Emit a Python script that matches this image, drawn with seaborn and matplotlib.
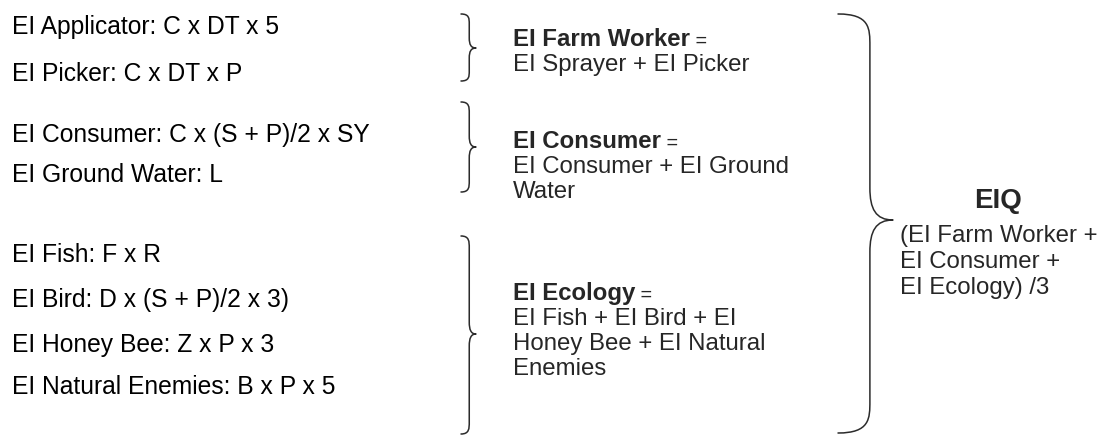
import matplotlib
matplotlib.use("Agg")
import matplotlib.pyplot as plt
import seaborn as sns
from matplotlib.path import Path
from matplotlib.patches import PathPatch

sns.set_theme(style="white")
plt.rcParams["font.family"] = ["Liberation Sans", "DejaVu Sans"]

# component formulas (left column), grouped by the brace they belong to
worker_terms = ["EI Applicator: C x DT x 5", "EI Picker: C x DT x P"]
consumer_terms = ["EI Consumer: C x (S + P)/2 x SY", "EI Ground Water: L"]
ecology_terms = [
    "EI Fish: F x R",
    "EI Bird: D x (S + P)/2 x 3)",
    "EI Honey Bee: Z x P x 3",
    "EI Natural Enemies: B x P x 5",
]

# group totals (middle column)
group_titles = ["EI Farm Worker", "EI Consumer", "EI Ecology"]
group_bodies = [
    ["EI Sprayer + EI Picker"],
    ["EI Consumer + EI Ground", "Water"],
    ["EI Fish + EI Bird + EI", "Honey Bee + EI Natural", "Enemies"],
]

# final index
final_title = "EIQ"
final_body = ["(EI Farm Worker +", "EI Consumer +", "EI Ecology) /3"]

BODY = 17.3
LINE = "#2b2b2b"


def brace(ax, x0, tip, top, bottom, mid, r, stem_frac=0.55):
    # right-facing curly brace "}" in pixel-like data coords (y grows down)
    stem = x0 + (tip - x0) * stem_frac
    verts = [
        (x0, top),
        (stem, top), (stem, top + r * 0.45), (stem, top + r),
        (stem, mid - r),
        (stem, mid - r * 0.35), (stem + (tip - stem) * 0.25, mid), (tip, mid),
        (stem + (tip - stem) * 0.25, mid), (stem, mid + r * 0.35), (stem, mid + r),
        (stem, bottom - r),
        (stem, bottom - r * 0.45), (stem, bottom), (x0, bottom),
    ]
    codes = [Path.MOVETO] + [Path.CURVE4] * 3 + [Path.LINETO] + [Path.CURVE4] * 6 + [Path.LINETO] + [Path.CURVE4] * 3
    ax.add_patch(PathPatch(Path(verts, codes), fill=False, edgecolor=LINE,
                           linewidth=1.1, capstyle="round", joinstyle="round"))


fig = plt.figure(figsize=(11.1, 4.36), dpi=100)
ax = fig.add_axes([0, 0, 1, 1])
ax.set_xlim(0, 1110)
ax.set_ylim(436, 0)
ax.axis("off")

# left column
left_baselines = [34, 81, 142, 182, 262, 307, 352, 394]
for text, yb in zip(worker_terms + consumer_terms + ecology_terms, left_baselines):
    ax.text(12, yb, text, fontsize=17.7, va="baseline", ha="left", color="black")

# small braces
brace(ax, 461, 476, 14, 81, 48, 10)
brace(ax, 461, 476, 102, 192, 147, 11)
brace(ax, 461, 476, 236, 434, 334, 12)

# middle column
title_baselines = [46, 148, 300]
for title, body, yb in zip(group_titles, group_bodies, title_baselines):
    t = ax.text(513, yb, title, fontsize=BODY, weight="bold", va="baseline", ha="left")
    ax.annotate(" =", xy=(1, 0), xycoords=t, va="bottom", ha="left", fontsize=BODY - 3)
    for i, line in enumerate(body):
        ax.text(513, yb + 25 * (i + 1), line, fontsize=BODY, va="baseline", ha="left")

# big brace
brace(ax, 838, 893, 14, 433, 220, 32, stem_frac=0.58)

# final index
ax.text(998, 208, final_title, fontsize=20, weight="bold", va="baseline", ha="center")
for i, line in enumerate(final_body):
    ax.text(900, 242 + 26 * i, line, fontsize=BODY, va="baseline", ha="left")

fig.savefig("out.png", dpi=100, facecolor="white")
